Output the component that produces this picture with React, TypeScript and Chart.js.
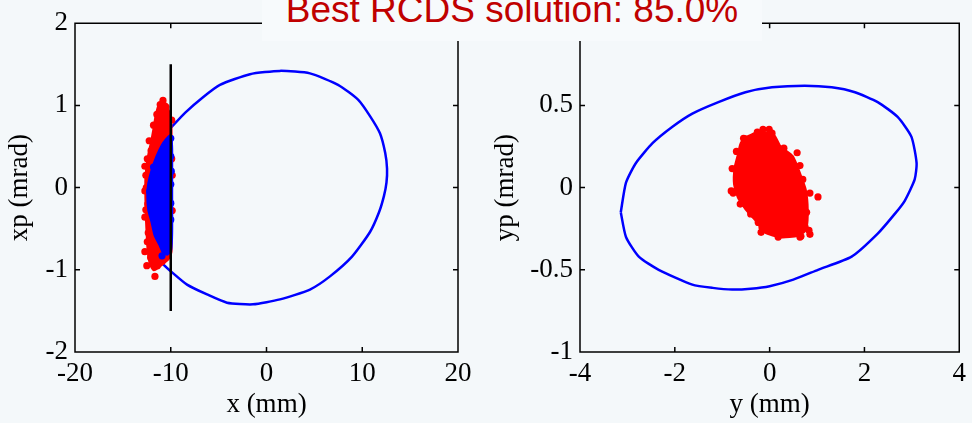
import React, { useEffect, useRef } from 'react';
import { Chart, registerables } from 'chart.js';
Chart.register(...registerables);

type Pt = [number, number];

const titleText = 'Best RCDS solution: 85.0%';

// Left panel: horizontal phase space
const xAxisLabel = 'x (mm)';
const xpAxisLabel = 'xp (mrad)';
const xRange: Pt = [-20, 20];
const xpRange: Pt = [-2, 2];
const xStep = 10;
const xpStep = 1;
const apertureX: Pt[] = [[-10, -1.5], [-10, 1.5]];

const xEllipse: Pt[] = [
  [-9.97, 0.73], [-8.51, 0.91], [-6.63, 1.1], [-4.86, 1.25], [-1.72, 1.38], [1.41, 1.42],
  [4.54, 1.39], [7.47, 1.25], [9.56, 1.07], [10.81, 0.87], [11.85, 0.66], [12.4, 0.42],
  [12.59, 0.23], [12.53, 0.06], [12.27, -0.1], [11.75, -0.3], [10.81, -0.54], [8.93, -0.84],
  [6.63, -1.08], [4.54, -1.24], [1.41, -1.36], [-1.41, -1.42], [-4.13, -1.4], [-6.21, -1.3],
  [-8.3, -1.18], [-9.97, -1.02], [-10.81, -0.93], [-11.8, -0.72], [-12.4, -0.38], [-12.5, 0.02],
  [-12.2, 0.4], [-11.2, 0.62], [-9.97, 0.73],
];

const xRedCore: Pt[] = [
  [-11.12, 1.03], [-10.6, 1.02], [-10.29, 0.95], [-10.08, 0.86], [-9.97, 0.71], [-9.97, -0.78],
  [-10.29, -0.87], [-10.81, -0.92], [-11.33, -0.97], [-11.75, -1.0], [-12.1, -0.94], [-12.35, -0.78],
  [-12.45, -0.6], [-12.55, -0.36], [-12.6, -0.12], [-12.6, 0.11], [-12.45, 0.29], [-12.25, 0.43],
  [-12.0, 0.56], [-11.75, 0.72], [-11.55, 0.86], [-11.35, 0.96], [-11.12, 1.03],
];

const xRedDots: Pt[] = [
  [-10.81, 1.06], [-11.1, 1.01], [-10.5, 0.98], [-11.45, 0.89], [-11.8, 0.76], [-12.25, 0.57],
  [-12.7, 0.26], [-12.6, 0.15], [-12.7, -0.04], [-12.6, -0.27], [-12.7, -0.36], [-12.45, -0.66],
  [-12.7, -0.78], [-12.5, -0.95], [-11.65, -1.08], [-11.85, -0.9], [-10.91, -0.9], [-9.9, 0.82],
  [-9.9, 0.35], [-9.85, 0.15], [-9.85, -0.28], [-12.05, 0.45], [-12.55, 0.0], [-12.35, -0.55],
  [-12.1, -0.85], [-11.4, -0.95], [-10.6, 0.99], [-10.4, 0.9], [-12.4, -0.2], [-12.45, 0.35],
];

const xBlueCore: Pt[] = [
  [-9.97, 0.64], [-10.5, 0.58], [-10.91, 0.51], [-11.44, 0.38], [-11.96, 0.21], [-12.3, 0.05],
  [-12.4, -0.1], [-12.3, -0.27], [-11.96, -0.42], [-11.64, -0.58], [-11.12, -0.7], [-10.81, -0.78],
  [-10.39, -0.81], [-10.0, -0.76], [-9.9, -0.54], [-9.9, -0.19], [-9.9, 0.17], [-9.9, 0.47],
  [-9.97, 0.64],
];

const xBlueDots: Pt[] = [
  [-10.0, 0.6], [-10.0, 0.38], [-9.95, 0.2], [-10.0, 0.04], [-10.0, -0.19], [-10.0, -0.39],
  [-10.81, -0.7], [-10.91, -0.83], [-10.6, -0.76], [-12.2, -0.05], [-11.8, 0.25],
];

// Right panel: vertical phase space
const yAxisLabel = 'y (mm)';
const ypAxisLabel = 'yp (mrad)';
const yRange: Pt = [-4, 4];
const ypRange: Pt = [-1, 1];
const yStep = 2;
const ypStep = 0.5;

const yEllipse: Pt[] = [
  [-3.14, -0.15], [-3.03, 0.03], [-2.82, 0.15], [-2.47, 0.27], [-2.05, 0.37], [-1.63, 0.45],
  [-1.08, 0.52], [-0.51, 0.58], [0.05, 0.61], [0.74, 0.62], [1.31, 0.61], [1.8, 0.58],
  [2.28, 0.52], [2.7, 0.43], [2.99, 0.31], [3.1, 0.15], [3.06, 0.05], [2.85, -0.08],
  [2.64, -0.16], [2.28, -0.28], [1.73, -0.42], [1.02, -0.5], [0.5, -0.56], [0.0, -0.6],
  [-0.4, -0.615], [-0.79, -0.62], [-1.2, -0.61], [-1.63, -0.59], [-2.34, -0.5], [-2.76, -0.42],
  [-3.03, -0.3], [-3.14, -0.15],
];

const yRedCore: Pt[] = [
  [-0.22, 0.34], [0.08, 0.32], [0.22, 0.25], [0.48, 0.19], [0.64, 0.08], [0.75, -0.01],
  [0.79, -0.1], [0.79, -0.2], [0.75, -0.26], [0.6, -0.29], [0.24, -0.3], [-0.1, -0.27],
  [-0.26, -0.21], [-0.5, -0.13], [-0.66, -0.06], [-0.74, 0.02], [-0.73, 0.12], [-0.66, 0.2],
  [-0.6, 0.27], [-0.45, 0.31], [-0.22, 0.34],
];

const yRedDots: Pt[] = [
  [-0.14, 0.355], [-0.26, 0.337], [0.05, 0.331], [-0.01, 0.355], [0.14, 0.247], [0.58, 0.212],
  [1.02, -0.057], [0.85, -0.033], [0.64, 0.134], [-0.79, 0.116], [-0.77, -0.033], [-0.81, -0.02],
  [-0.51, 0.296], [-0.16, -0.242], [0.18, -0.301], [0.64, -0.301], [0.85, -0.284], [0.75, -0.242],
  [-0.24, -0.212], [-0.18, -0.272], [0.66, -0.296], [0.83, -0.26], [-0.62, -0.1], [-0.4, -0.16],
  [0.78, -0.15], [0.7, 0.05], [-0.7, 0.22], [0.3, 0.24], [-0.55, 0.3],
];

const RED = '#ff0000';
const BLUE = '#0000ff';
const BG = '#f4f8fa';
const SERIF = '"Liberation Serif", "Times New Roman", serif';
const FS = 27;

const toXY = (a: Pt[]) => a.map(([x, y]) => ({ x, y }));

const framePlugin = {
  id: 'frame',
  afterDatasetsDraw(chart: any) {
    const { ctx, chartArea: a, scales } = chart;
    const L = 5;
    ctx.save();
    ctx.strokeStyle = '#000';
    ctx.lineWidth = 1.5;
    ctx.beginPath();
    ctx.rect(a.left, a.top, a.right - a.left, a.bottom - a.top);
    scales.x.ticks.forEach((t: any) => {
      const p = scales.x.getPixelForValue(t.value);
      ctx.moveTo(p, a.bottom); ctx.lineTo(p, a.bottom - L);
      ctx.moveTo(p, a.top); ctx.lineTo(p, a.top + L);
    });
    scales.y.ticks.forEach((t: any) => {
      const p = scales.y.getPixelForValue(t.value);
      ctx.moveTo(a.left, p); ctx.lineTo(a.left + L, p);
      ctx.moveTo(a.right, p); ctx.lineTo(a.right - L, p);
    });
    ctx.stroke();
    ctx.restore();
  },
};

const dots = (data: Pt[], color: string, order: number) => ({
  data: toXY(data), showLine: false, pointRadius: 3.6, pointBorderWidth: 0,
  pointBackgroundColor: color, pointBorderColor: color, order,
});
const core = (data: Pt[], color: string, order: number) => ({
  data: toXY(data), showLine: true, pointRadius: 0, borderColor: color, borderWidth: 3,
  backgroundColor: color, fill: 'shape', tension: 0.2, order,
});
const curve = (data: Pt[], color: string, width: number, tension: number, order: number) => ({
  data: toXY(data), showLine: true, pointRadius: 0, borderColor: color, borderWidth: width,
  fill: false, tension, order,
});

const fmt = (v: any) => String(Math.round(Number(v) * 100) / 100);

function makeConfig(datasets: any[], xr: Pt, xs: number, yr: Pt, ys: number, xl: string, yl: string,
  yAxisW: number, padRight: number) {
  const tickFont = { family: SERIF, size: FS };
  return {
    type: 'scatter',
    data: { datasets },
    options: {
      animation: false,
      responsive: false,
      events: [],
      layout: { padding: { left: 0, top: 17, right: padRight, bottom: 0 } },
      plugins: { legend: { display: false }, tooltip: { enabled: false } },
      scales: {
        x: {
          type: 'linear', min: xr[0], max: xr[1],
          grid: { display: false, drawTicks: false },
          border: { display: false },
          ticks: { stepSize: xs, font: tickFont, color: '#000', padding: 6, autoSkip: false, maxRotation: 0, callback: fmt },
          title: { display: true, text: xl, font: tickFont, color: '#000', padding: { top: 0, bottom: 2 } },
          afterFit: (s: any) => { s.height = 71; },
        },
        y: {
          type: 'linear', min: yr[0], max: yr[1],
          grid: { display: false, drawTicks: false },
          border: { display: false },
          ticks: { stepSize: ys, font: tickFont, color: '#000', padding: 7, autoSkip: false, callback: fmt },
          title: { display: true, text: yl, font: tickFont, color: '#000', padding: { top: 4, bottom: 0 } },
          afterFit: (s: any) => { s.width = yAxisW; },
        },
      },
    },
    plugins: [framePlugin],
  };
}

export default function App() {
  const leftRef = useRef<HTMLCanvasElement>(null);
  const rightRef = useRef<HTMLCanvasElement>(null);

  useEffect(() => {
    const left = new Chart(leftRef.current as HTMLCanvasElement, makeConfig([
      curve(apertureX, '#000', 2.5, 0, 0),
      dots(xBlueDots, BLUE, 1),
      core(xBlueCore, BLUE, 2),
      dots(xRedDots, RED, 3),
      core(xRedCore, RED, 4),
      curve(xEllipse, BLUE, 2.5, 0.2, 5),
    ], xRange, xStep, xpRange, xpStep, xAxisLabel, xpAxisLabel, 75, 28) as any);
    const right = new Chart(rightRef.current as HTMLCanvasElement, makeConfig([
      dots(yRedDots, RED, 1),
      core(yRedCore, RED, 2),
      curve(yEllipse, BLUE, 2.5, 0.2, 3),
    ], yRange, yStep, ypRange, ypStep, yAxisLabel, ypAxisLabel, 94, 11) as any);
    return () => { left.destroy(); right.destroy(); };
  }, []);

  return (
    <div style={{ position: 'fixed', left: 0, top: 0, width: 972, height: 423, background: BG, overflow: 'hidden' }}>
      <canvas ref={leftRef} width={486} height={423} style={{ position: 'absolute', left: 0, top: 0, width: 486, height: 423 }} />
      <canvas ref={rightRef} width={486} height={423} style={{ position: 'absolute', left: 486, top: 0, width: 486, height: 423 }} />
      <div style={{ position: 'absolute', left: 262, top: 0, width: 500, height: 41, background: '#f7fafc' }}>
        <div style={{
          position: 'absolute', left: 0, right: 0, top: -9, textAlign: 'center', whiteSpace: 'nowrap',
          fontFamily: '"Liberation Sans", Arial, sans-serif', fontSize: 37, lineHeight: '37px', color: '#c00000',
        }}>{titleText}</div>
      </div>
    </div>
  );
}
